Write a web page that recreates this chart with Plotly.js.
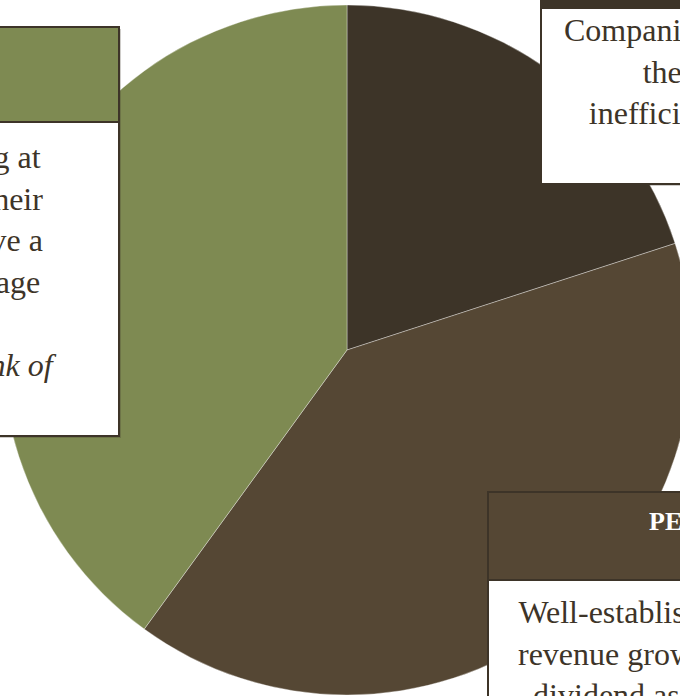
<!DOCTYPE html>
<html>
<head>
<meta charset="utf-8">
<script src="https://cdn.plot.ly/plotly-3.0.1.min.js"></script>
<style>
html, body { margin: 0; padding: 0; overflow: hidden; background: #ffffff; }
#chart { width: 700px; height: 700px; }
</style>
</head>
<body>
<div id="chart"></div>
<script>
// ---- data ----
const categories = ["Value", "Perennials", "Growth"];
const shares = [20, 40, 40];
const headers = ["VALUE", "PERENNIALS", "GROWTH"];
const descriptions = [
  "Companies now trading below<br>their actual worth;<br>inefficiencies leave hidden<br>bargains.",
  "Well-established companies<br>revenue growth and reliable<br>dividend as a key reward.",
  "Companies growing at<br>more rapidly than their<br>peers, and often have a<br>competitive advantage<br> <br><i>As one example, think of</i><br><i>Amazon.</i>"
];

// ---- styles / layout ----
const sliceColors = ["#3d3428", "#554734", "#7e8a52"];
const ink = "#3d3428";
const W = 700, H = 700;
const px = x => x / W;
const py = y => 1 - y / H;

// box geometry in pixels, one per category index
const boxes = [
  {i: 0, x0: 541, x1: 979, top: -87, head: 8, bottom: 184, cx: 760, bodyY: 92.5, headY: -58, headX: 760, headAnchor: "center"},
  {i: 1, x0: 488, x1: 906, top: 492, head: 580, bottom: 760, cx: 697, bodyY: 653, headY: 521, headX: 647, headAnchor: "left"},
  {i: 2, x0: -325, x1: 119, top: 27, head: 122, bottom: 436, cx: -103, bodyY: 281.5, headY: 58, headX: -103, headAnchor: "center"}
];

const shapes = [];
const annotations = [];
boxes.forEach(b => {
  // soft shadow
  shapes.push({type: "rect", xref: "paper", yref: "paper",
    x0: px(b.x0 + 2), x1: px(b.x1 + 2), y0: py(b.bottom + 2), y1: py(b.top + 2),
    fillcolor: "rgba(61,52,40,0.25)", line: {width: 0}});
  // body
  shapes.push({type: "rect", xref: "paper", yref: "paper",
    x0: px(b.x0), x1: px(b.x1), y0: py(b.bottom), y1: py(b.top),
    fillcolor: "#ffffff", line: {color: ink, width: 2}});
  // header band
  shapes.push({type: "rect", xref: "paper", yref: "paper",
    x0: px(b.x0), x1: px(b.x1), y0: py(b.head), y1: py(b.top),
    fillcolor: sliceColors[b.i], line: {color: ink, width: 2}});
  annotations.push({xref: "paper", yref: "paper", x: px(b.headX), y: py(b.headY),
    xanchor: b.headAnchor, yanchor: "middle", showarrow: false,
    text: "<b>" + headers[b.i] + "</b>",
    font: {family: "Liberation Serif", size: 26, color: "#ffffff"}});
  annotations.push({xref: "paper", yref: "paper", x: px(b.cx), y: py(b.bodyY),
    xanchor: "center", yanchor: "middle", align: "center", showarrow: false,
    text: descriptions[b.i],
    font: {family: "Liberation Serif", size: 32, color: ink}});
});

const trace = {
  type: "pie",
  labels: categories,
  values: shares,
  sort: false,
  direction: "clockwise",
  rotation: 0,
  textinfo: "none",
  hoverinfo: "skip",
  marker: {colors: sliceColors, line: {color: "rgba(255,255,255,0.35)", width: 1}},
  domain: {x: [2 / W, 692 / W], y: [1 - 695 / H, 1 - 5 / H]}
};

const layout = {
  width: W, height: H,
  margin: {l: 0, r: 0, t: 0, b: 0},
  paper_bgcolor: "#ffffff",
  showlegend: false,
  shapes: shapes,
  annotations: annotations
};

Plotly.newPlot("chart", [trace], layout, {displayModeBar: false, staticPlot: true});
</script>
</body>
</html>
